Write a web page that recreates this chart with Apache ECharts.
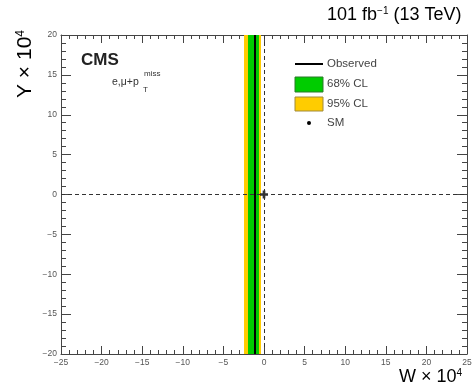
<!DOCTYPE html>
<html>
<head>
<meta charset="utf-8">
<script src="https://cdn.jsdelivr.net/npm/echarts@6/dist/echarts.min.js"></script>
<style>
  html, body { margin: 0; padding: 0; background: #fff; }
  #container { width: 475px; height: 390px; }
</style>
</head>
<body>
<div id="container"></div>
<script>
// values (units of 1e-4)
const xRange = [-25, 25];
const yRange = [-20, 20];
const band95 = [-2.46, -0.37];
const band68 = [-1.97, -0.62];
const observedW = [-1.11];
const smPoint = [[0, 0]];
const legendNames = ['Observed', '68% CL', '95% CL', 'SM'];

const FONT = 'Liberation Sans, Arial, sans-serif';
const minus = v => String(v).replace('-', '\u2212');

const dom = document.getElementById('container');
const chart = echarts.init(dom, null, { renderer: 'canvas' });

const grid = { left: 61, top: 35, width: 406, height: 319 };

function mkAxis(pos, range, showLabels, major, minor) {
  return {
    type: 'value',
    position: pos,
    min: range[0], max: range[1], interval: 5,
    axisLine: { show: true, onZero: false, lineStyle: { color: '#444', width: 1 } },
    axisTick: { show: true, inside: true, length: major, lineStyle: { color: '#444' } },
    minorTick: { show: true, splitNumber: 5, length: minor, lineStyle: { color: '#444' } },
    splitLine: { show: false },
    axisLabel: {
      show: showLabels, color: '#555', fontSize: 8.5, fontFamily: FONT,
      margin: 4, formatter: minus, showMinLabel: true, showMaxLabel: true
    }
  };
}

// base text followed by a raised smaller part
function supRich(base, sup, size, supSize, tail) {
  return {
    text: '{a|' + base + '}{b|' + sup + '}' + (tail ? '{a|' + tail + '}' : ''),
    rich: {
      a: { fontFamily: FONT, fontSize: size, color: '#222' },
      b: { fontFamily: FONT, fontSize: supSize, color: '#222', verticalAlign: 'top' }
    }
  };
}

const yTitle = supRich('Y \u00d7 10', '4', 21, 12);
yTitle.align = 'right';
yTitle.verticalAlign = 'top';

const option = {
  animation: false,
  grid: grid,
  xAxis: [mkAxis('bottom', xRange, true, 8, 4), mkAxis('top', xRange, false, 8, 4)],
  yAxis: [mkAxis('left', yRange, true, 10, 5), mkAxis('right', yRange, false, 10, 5)],
  series: [
    {
      name: '95% CL', type: 'line', data: [], silent: true,
      markArea: {
        silent: true,
        itemStyle: { color: '#ffcc00' },
        data: [[{ xAxis: band95[0] }, { xAxis: band95[1] }]]
      }
    },
    {
      name: '68% CL', type: 'line', data: [], silent: true,
      markArea: {
        silent: true,
        itemStyle: { color: '#00cc00' },
        data: [[{ xAxis: band68[0] }, { xAxis: band68[1] }]]
      }
    },
    {
      name: 'Observed', type: 'line', data: [], silent: true,
      markLine: {
        silent: true, symbol: 'none', label: { show: false },
        lineStyle: { color: '#000', width: 2, type: 'solid' },
        data: observedW.map(v => ({ xAxis: v }))
      }
    },
    {
      name: 'ref', type: 'line', data: [], silent: true,
      markLine: {
        silent: true, symbol: 'none', label: { show: false },
        lineStyle: { color: '#333', width: 1, type: [4, 3] },
        data: [{ xAxis: 0 }, { yAxis: 0 }]
      }
    },
    {
      name: 'SM', type: 'scatter', data: smPoint, silent: true,
      symbol: 'path://M2,0 h2 v2 h2 v2 h-2 v2 h-2 v-2 h-2 v-2 h2 z',
      symbolSize: 8,
      itemStyle: { color: '#000' }
    }
  ],
  graphic: [
    // title
    { type: 'text', left: 327, top: 6, style: supRich('101 fb', '\u22121', 18, 10, ' (13 TeV)') },
    // CMS label
    { type: 'text', left: 81, top: 52, style: { text: 'CMS', font: 'bold 17px ' + FONT, fill: '#222' } },
    { type: 'text', left: 112, top: 77, style: { text: 'e,\u03bc+p', font: '10.5px ' + FONT, fill: '#333' } },
    { type: 'text', left: 144, top: 70, style: { text: 'miss', font: '8px ' + FONT, fill: '#333' } },
    { type: 'text', left: 143, top: 86, style: { text: 'T', font: '8px ' + FONT, fill: '#333' } },
    // axis titles
    { type: 'text', right: 13, top: 368, style: supRich('W \u00d7 10', '4', 18, 10) },
    { type: 'text', x: 15, y: 30, rotation: Math.PI / 2, style: yTitle },
    // legend
    { type: 'rect', shape: { x: 295, y: 63, width: 28, height: 2 }, style: { fill: '#000' } },
    { type: 'rect', shape: { x: 295, y: 77, width: 28, height: 15 }, style: { fill: '#00cc00', stroke: '#2a7a2a', lineWidth: 1 } },
    { type: 'rect', shape: { x: 295, y: 97, width: 28, height: 14 }, style: { fill: '#ffcc00', stroke: '#a08a3a', lineWidth: 1 } },
    { type: 'circle', shape: { cx: 309, cy: 123, r: 2 }, style: { fill: '#000' } },
    { type: 'text', left: 327, top: 58, style: { text: legendNames[0], font: '11.5px ' + FONT, fill: '#444' } },
    { type: 'text', left: 327, top: 78, style: { text: legendNames[1], font: '11.5px ' + FONT, fill: '#444' } },
    { type: 'text', left: 327, top: 98, style: { text: legendNames[2], font: '11.5px ' + FONT, fill: '#444' } },
    { type: 'text', left: 327, top: 117, style: { text: legendNames[3], font: '11.5px ' + FONT, fill: '#444' } }
  ]
};

chart.setOption(option);
</script>
</body>
</html>
